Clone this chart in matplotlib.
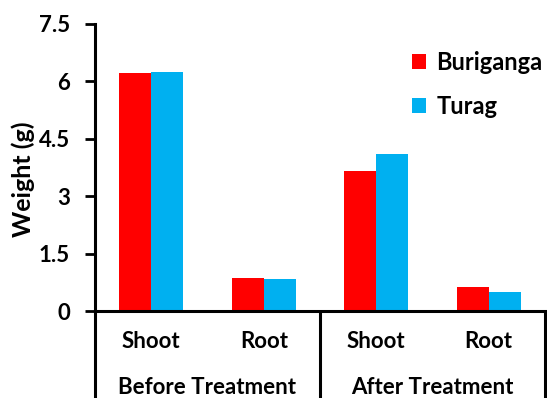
import matplotlib
matplotlib.use("Agg")
import matplotlib.pyplot as plt
import numpy as np

plt.rcParams['font.family'] = ['Lato', 'DejaVu Sans']

# Data
stages = ["Before Treatment", "After Treatment"]
parts = ["Shoot", "Root", "Shoot", "Root"]
series_names = ["Buriganga", "Turag"]
buriganga = [6.22, 0.87, 3.66, 0.64]
turag = [6.25, 0.84, 4.09, 0.50]
yticks = [0, 1.5, 3, 4.5, 6, 7.5]
ytick_labels = ["0", "1.5", "3", "4.5", "6", "7.5"]
colors = ["#FF0000", "#00B0F0"]

W, H = 547, 398
fig = plt.figure(figsize=(W / 100, H / 100), dpi=100)
left, right, top, bottom = 95, 545, 24, 311
ax = fig.add_axes([left / W, 1 - bottom / H, (right - left) / W, (bottom - top) / H])

x = np.arange(len(parts))
bw = 0.283
ax.bar(x - bw / 2, buriganga, bw, color=colors[0], label=series_names[0])
ax.bar(x + bw / 2, turag, bw, color=colors[1], label=series_names[1])

ax.set_xlim(-0.5, len(parts) - 0.5)
ax.set_ylim(0, 7.5)
ax.set_yticks(yticks)
ax.set_yticklabels(ytick_labels, fontsize=16, fontweight='bold')
ax.set_xticks([])
ax.tick_params(axis='y', direction='out', length=7, width=2, pad=11)

for s in ['top', 'right']:
    ax.spines[s].set_visible(False)
for s in ['left', 'bottom']:
    ax.spines[s].set_linewidth(2.2)
ax.spines['bottom'].set_bounds(-0.5, len(parts) - 0.5)

ax.set_ylabel("Weight (g)", fontsize=18, fontweight='bold')
ax.yaxis.set_label_coords(-0.133, 0.46)

# Grouping lines below the axis
trans = ax.get_xaxis_transform()
ybot = -(H - bottom) / (bottom - top)
for xv in [-0.5, 1.5, len(parts) - 0.5]:
    ax.plot([xv, xv], [0, ybot], transform=trans, color='black', lw=2.2,
            clip_on=False, solid_capstyle='butt')

# Part labels
y_part = -(341 - bottom) / (bottom - top)
for xi, p in zip(x, parts):
    ax.text(xi, y_part, p, transform=trans, ha='center', va='center',
            fontsize=16, fontweight='bold')

# Stage labels
y_stage = -(388 - bottom) / (bottom - top)
for i, st in enumerate(stages):
    ax.text(2 * i + 0.5, y_stage, st, transform=trans, ha='center', va='center',
            fontsize=16, fontweight='bold')

leg = ax.legend(loc='upper left', bbox_to_anchor=(0.683, 0.94), frameon=False,
                prop={'size': 17, 'weight': 'bold'}, handlelength=0.6,
                handleheight=0.6, handletextpad=0.45, labelspacing=0.9,
                borderaxespad=0)

fig.savefig("out.png", dpi=100)
